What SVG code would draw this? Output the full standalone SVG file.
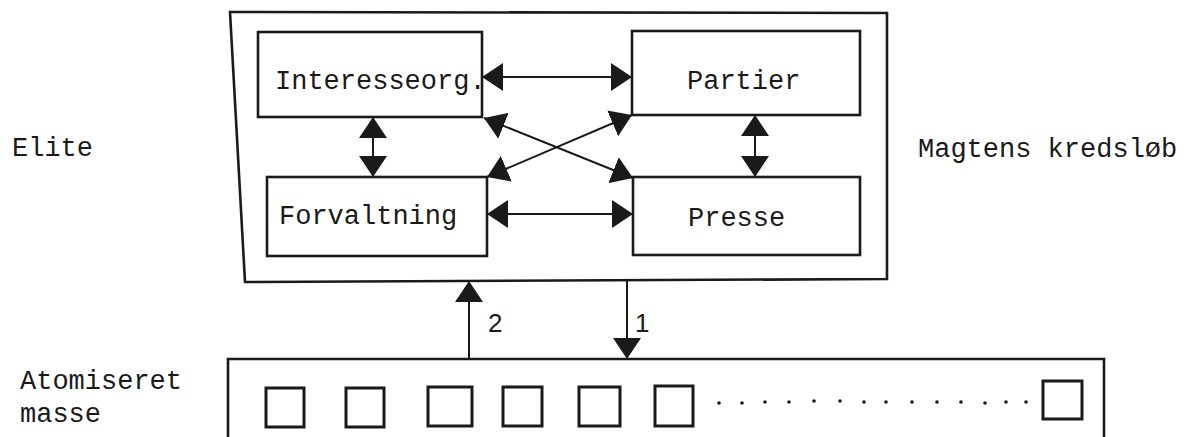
<svg xmlns="http://www.w3.org/2000/svg" width="1196" height="437" viewBox="0 0 1196 437">
<style>
.box{fill:none;stroke:#1a1a1a;stroke-width:2.6}
.sq{fill:none;stroke:#1a1a1a;stroke-width:3}
.ln{fill:none;stroke:#1a1a1a;stroke-width:2}
.t{font-family:"Liberation Mono","DejaVu Sans Mono",monospace;font-size:27px;fill:#1a1a1a}
.num{font-family:"Liberation Sans",sans-serif;font-size:26px;fill:#1a1a1a}
.dot{fill:#1a1a1a}
</style>
<defs>
<marker id="ah" viewBox="0 0 21 28" refX="21" refY="14" markerWidth="21" markerHeight="28" markerUnits="userSpaceOnUse" orient="auto-start-reverse">
<path d="M0,0 L21,14 L0,28 z" fill="#1a1a1a"/>
</marker>
</defs>
<rect width="1196" height="437" fill="#fff"/>
<g id="elite-frame">
<polygon class="box" points="230,12 887,13 887,279 245,282"/>
</g>
<g id="interesseorg">
<rect class="box" x="258" y="32" width="224" height="85"/>
<text class="t" x="275" y="89">Interesseorg.</text>
</g>
<g id="partier">
<rect class="box" x="632" y="31" width="228" height="84"/>
<text class="t" x="687" y="89">Partier</text>
</g>
<g id="forvaltning">
<rect class="box" x="267" y="177" width="220" height="79"/>
<text class="t" x="279" y="224">Forvaltning</text>
</g>
<g id="presse">
<rect class="box" x="633" y="177" width="227" height="78"/>
<text class="t" x="688" y="226">Presse</text>
</g>
<g id="labels">
<text class="t" x="12" y="156">Elite</text>
<text class="t" x="918" y="157">Magtens kredsløb</text>
<text class="t" x="20" y="389">Atomiseret</text>
<text class="t" x="20" y="422">masse</text>
</g>
<g id="masse">
<path class="box" d="M228,437 V359 H1104 V437"/>
<rect class="sq" x="266" y="388" width="38" height="39"/>
<rect class="sq" x="346" y="388" width="38" height="39"/>
<rect class="sq" x="428" y="387" width="44" height="39"/>
<rect class="sq" x="503" y="387" width="39" height="39"/>
<rect class="sq" x="579" y="387" width="41" height="39"/>
<rect class="sq" x="655" y="386" width="38" height="40"/>
<rect class="sq" x="1043" y="381" width="39" height="38"/>
<g class="dot">
<circle cx="719" cy="403" r="1.8"/><circle cx="742" cy="403" r="1.8"/><circle cx="765" cy="402" r="1.8"/><circle cx="789" cy="402" r="1.8"/><circle cx="814" cy="401" r="1.8"/><circle cx="840" cy="401" r="1.8"/><circle cx="864" cy="402" r="1.8"/><circle cx="886" cy="402" r="1.8"/><circle cx="912" cy="402" r="1.8"/><circle cx="937" cy="402" r="1.8"/><circle cx="961" cy="402" r="1.8"/><circle cx="985" cy="403" r="1.8"/><circle cx="1006" cy="402" r="1.8"/><circle cx="1026" cy="402" r="1.8"/>
</g>
</g>
<g id="connectors">
<line class="ln" x1="482" y1="77" x2="632" y2="77" marker-start="url(#ah)" marker-end="url(#ah)"/>
<line class="ln" x1="487" y1="214" x2="633" y2="214" marker-start="url(#ah)" marker-end="url(#ah)"/>
<line class="ln" x1="373" y1="117" x2="373" y2="177" marker-start="url(#ah)" marker-end="url(#ah)"/>
<line class="ln" x1="755" y1="115" x2="755" y2="177" marker-start="url(#ah)" marker-end="url(#ah)"/>
<line class="ln" x1="484" y1="118" x2="633" y2="178" marker-start="url(#ah)" marker-end="url(#ah)"/>
<line class="ln" x1="487" y1="177" x2="632" y2="115" marker-start="url(#ah)" marker-end="url(#ah)"/>
<line class="ln" x1="469" y1="359" x2="469" y2="281" marker-end="url(#ah)"/>
<line class="ln" x1="627" y1="281" x2="627" y2="359" marker-end="url(#ah)"/>
<text class="num" x="488" y="332">2</text>
<text class="num" x="635" y="332">1</text>
</g>
</svg>
